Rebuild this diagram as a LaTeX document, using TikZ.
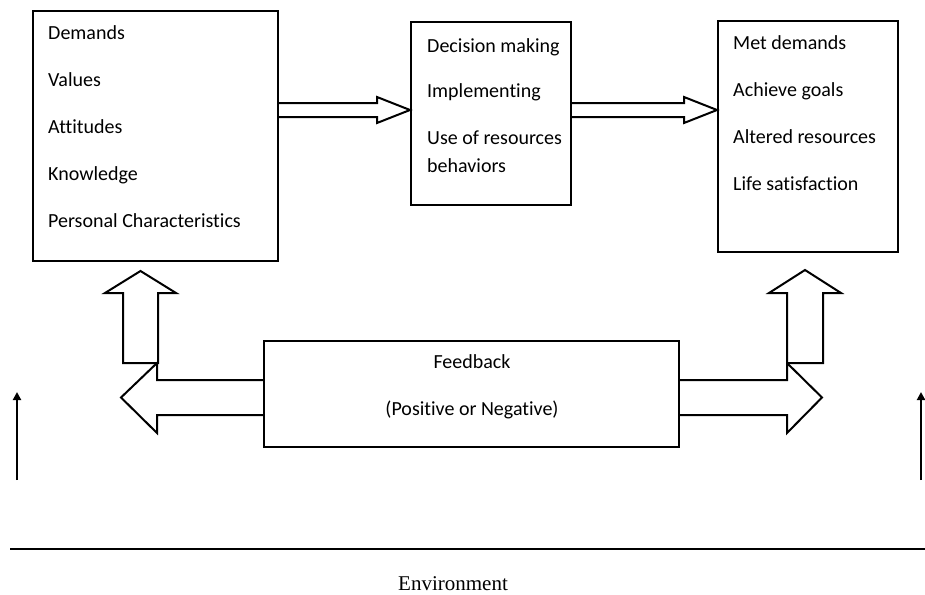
\documentclass[tikz,border=0pt]{standalone}
\usepackage{fontspec}
\setmainfont[Ligatures=NoCommon]{Carlito}
\newfontfamily\envfont{Liberation Serif}
\usetikzlibrary{calc,arrows.meta}
\tikzset{
  box/.style={draw, line width=2pt, inner sep=0pt},
  lines/.style={align=left, anchor=north west, inner sep=0pt, font=\fontsize{20}{24}\selectfont},
  label/.style={inner sep=0pt, font=\fontsize{20}{24}\selectfont},
  fat/.style={draw, line width=2pt, line join=miter},
  thinarrow/.style={draw, line width=2pt, -{Triangle[length=8pt,width=8pt]}},
}
\begin{document}
\begin{tikzpicture}[x=1pt,y=-1pt]
\useasboundingbox (0,0) rectangle (925,594);
% boxes
\node[box, minimum width=245pt, minimum height=250pt] (needs) at (155.5,136) {};
\node[box, minimum width=160pt, minimum height=183pt] (proc) at (491,113.5) {};
\node[box, minimum width=180pt, minimum height=231pt] (result) at (808,136.5) {};
\node[box, minimum width=415pt, minimum height=106pt] (fb) at (471.5,394) {};

\node[lines] (needstext) at (48,25) {Demands\\[23pt] Values\\[23pt] Attitudes\\[23pt] Knowledge\\[23pt] Personal Characteristics};
\node[lines] (proctext) at (427,38) {Decision making\\[21pt] Implementing\\[23pt] Use of resources\\[4pt] behaviors};
\node[lines] (resulttext) at (733,35) {Met demands\\[23pt] Achieve goals\\[23pt] Altered resources\\[23pt] Life satisfaction};
\node[label] (fb1) at (472,362) {Feedback};
\node[label] (fb2) at (472,410) {(Positive or Negative)};

% top arrows
\coordinate (lvl) at (0,110);
\coordinate (a1) at (needs.east |- lvl);
\coordinate (b1) at (proc.west |- lvl);
\coordinate (a2) at (proc.east |- lvl);
\coordinate (b2) at (result.west |- lvl);
\path[fat] ($(a1)+(0,-7)$) -- ($(b1)+(-33,-7)$) -- ($(b1)+(-33,-13)$) -- (b1) -- ($(b1)+(-33,13)$) -- ($(b1)+(-33,7)$) -- ($(a1)+(0,7)$);
\path[fat] ($(a2)+(0,-7)$) -- ($(b2)+(-33,-7)$) -- ($(b2)+(-33,-13)$) -- (b2) -- ($(b2)+(-33,13)$) -- ($(b2)+(-33,7)$) -- ($(a2)+(0,7)$);

% feedback arrows
\coordinate (c1) at ([yshift=-3.5pt]fb.west);
\coordinate (c2) at ([yshift=-3.5pt]fb.east);
\coordinate (ltip) at (121,397.5);
\coordinate (rtip) at (822,397.5);
\path[fat] ($(c1)+(0,-17.5)$) -- ($(ltip)+(36,-17.5)$) -- ($(ltip)+(36,-34.5)$) -- (ltip) -- ($(ltip)+(36,35.5)$) -- ($(ltip)+(36,17.5)$) -- ($(c1)+(0,17.5)$);
\path[fat] ($(c2)+(0,-17.5)$) -- ($(rtip)+(-35,-17.5)$) -- ($(rtip)+(-35,-34.5)$) -- (rtip) -- ($(rtip)+(-35,35.5)$) -- ($(rtip)+(-35,17.5)$) -- ($(c2)+(0,17.5)$);

\coordinate (lbot) at (140.5,363);
\coordinate (ltop) at (140.5,271);
\coordinate (rbot) at (805,363);
\coordinate (rtop) at (805,270);
\path[fat] ($(lbot)+(-17.5,0)$) -- ($(ltop)+(-17.5,22)$) -- ($(ltop)+(-35.5,22)$) -- (ltop) -- ($(ltop)+(35.5,22)$) -- ($(ltop)+(17.5,22)$) -- ($(lbot)+(17.5,0)$) -- cycle;
\path[fat] ($(rbot)+(-18,0)$) -- ($(rtop)+(-18,23)$) -- ($(rtop)+(-36,23)$) -- (rtop) -- ($(rtop)+(36,23)$) -- ($(rtop)+(18,23)$) -- ($(rbot)+(18,0)$) -- cycle;

% environment
\coordinate (envl) at (17,480);
\coordinate (envlt) at (17,392);
\coordinate (envr) at (921,480);
\coordinate (envrt) at (921,392);
\path[thinarrow] (envl) -- (envlt);
\path[thinarrow] (envr) -- (envrt);
\coordinate (gl) at (10,549);
\coordinate (gr) at (925,549);
\path[draw, line width=2.5pt] (gl) -- (gr);
\node[inner sep=0pt, font=\envfont\fontsize{21}{24}\selectfont] (env) at (453,584) {Environment};
\end{tikzpicture}
\end{document}
